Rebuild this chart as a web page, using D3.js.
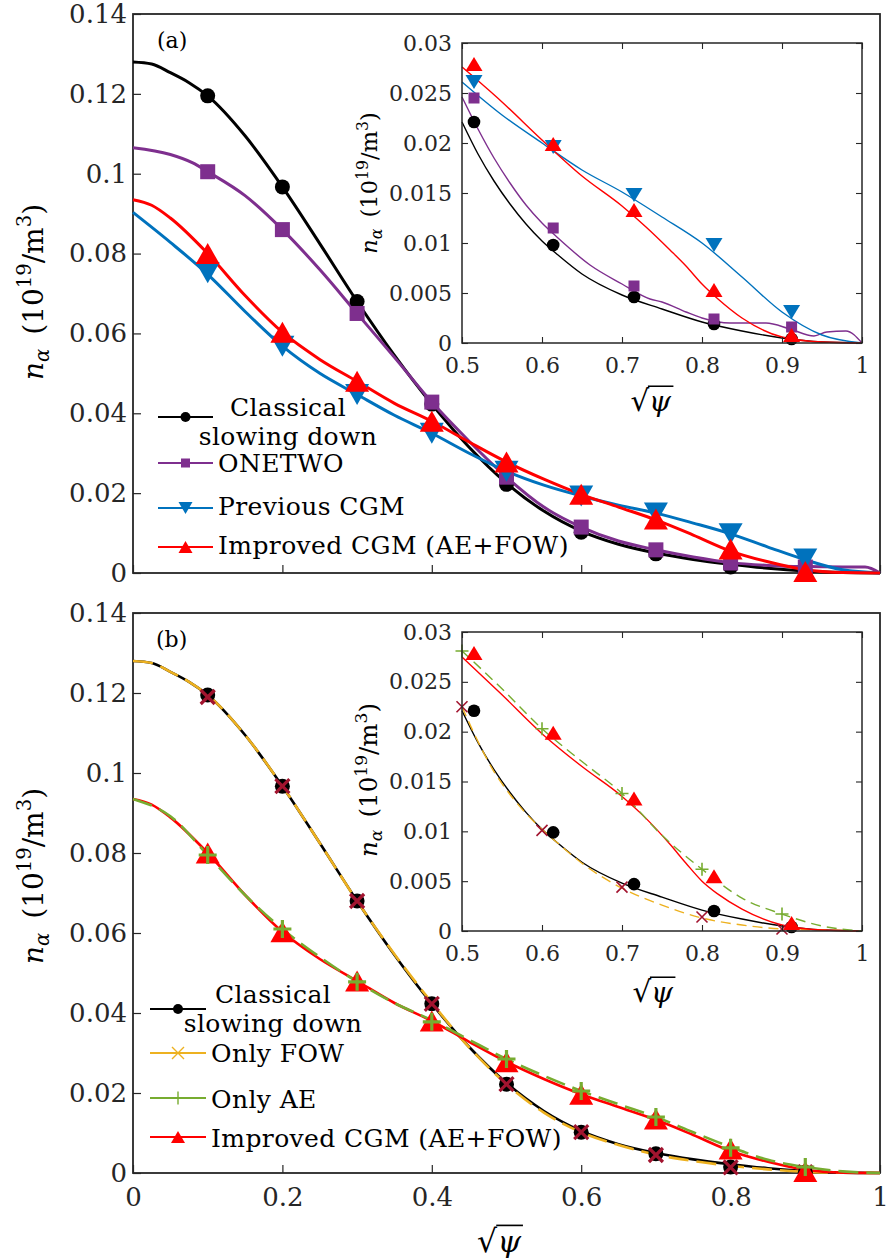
<!DOCTYPE html>
<html><head><meta charset="utf-8">
<script src="https://cdn.jsdelivr.net/npm/d3@7"></script>
<style>
body{margin:0;background:#fff}
text{font-family:"DejaVu Serif",serif;fill:#262626}
</style>
</head><body>
<svg id="c" width="892" height="1259"></svg>
<script>
// ---------------- DATA ----------------
const xTicksMain=[0,0.2,0.4,0.6,0.8,1];
const xTickLabelsMain=['0','0.2','0.4','0.6','0.8','1'];
const yTicksMain=[0,0.02,0.04,0.06,0.08,0.1,0.12,0.14];
const yTickLabelsMain=['0','0.02','0.04','0.06','0.08','0.1','0.12','0.14'];
const xTicksInset=[0.5,0.6,0.7,0.8,0.9,1];
const xTickLabelsInset=['0.5','0.6','0.7','0.8','0.9','1'];
const yTicksInset=[0,0.005,0.01,0.015,0.02,0.025,0.03];
const yTickLabelsInset=['0','0.005','0.01','0.015','0.02','0.025','0.03'];

// main panels: curves
const classicalX=[0,0.025,0.05,0.075,0.1,0.15,0.2,0.25,0.3,0.35,0.4,0.45,0.5,0.55,0.6,0.65,0.7,0.75,0.8,0.85,0.9,0.95,1];
const classicalY=[0.128,0.1275,0.1253,0.1228,0.1195,0.1095,0.0967,0.0825,0.068,0.0545,0.0423,0.0315,0.0225,0.0155,0.0105,0.0072,0.005,0.0034,0.0022,0.0012,0.0005,0.0001,0];
const onlyFowY=[0.128,0.1275,0.1253,0.1228,0.1195,0.1095,0.0967,0.0825,0.068,0.0547,0.0426,0.0314,0.0222,0.0151,0.0102,0.007,0.0046,0.003,0.0018,0.0009,0.0003,0.0001,0];
const onetwoX=[0,0.05,0.08,0.1,0.15,0.2,0.25,0.3,0.35,0.4,0.45,0.5,0.55,0.6,0.65,0.7,0.75,0.8,0.85,0.9,0.95,0.98,1];
const onetwoY=[0.1065,0.1048,0.1027,0.1005,0.0945,0.086,0.076,0.065,0.054,0.0428,0.033,0.024,0.0165,0.0115,0.008,0.0058,0.004,0.0026,0.0019,0.0016,0.0015,0.0015,0];
const gridX=[0,0.05,0.1,0.15,0.2,0.25,0.3,0.35,0.4,0.45,0.5,0.55,0.6,0.65,0.7,0.75,0.8,0.85,0.9,0.95,1];
const previousY=[0.0903,0.0828,0.0748,0.0655,0.0568,0.05,0.0447,0.0395,0.035,0.03,0.0255,0.022,0.0193,0.017,0.015,0.0125,0.0098,0.0065,0.0033,0.0008,0];
const onlyAeY=[0.0935,0.0892,0.0795,0.0695,0.061,0.054,0.0478,0.0425,0.0382,0.0333,0.0285,0.0243,0.0205,0.0172,0.014,0.0102,0.0065,0.0033,0.0015,0.0004,0];
const improvedX=[0,0.025,0.05,0.1,0.15,0.2,0.25,0.3,0.35,0.4,0.45,0.5,0.55,0.6,0.65,0.7,0.75,0.8,0.85,0.9,0.95,1];
const improvedY=[0.0935,0.0921,0.0889,0.08,0.0695,0.0603,0.0535,0.048,0.0425,0.038,0.0328,0.0278,0.0235,0.0197,0.0165,0.0133,0.0095,0.0055,0.0028,0.0008,0.0001,0];

// main panels: markers
const markX=[0.1,0.2,0.3,0.4,0.5,0.6,0.7,0.8,0.9];
const classicalM=[0.1195,0.0967,0.068,0.0423,0.0222,0.0102,0.0048,0.0015,0.0002];
const onetwoM=[0.1005,0.086,0.065,0.0428,0.024,0.0115,0.0058,0.0025,0.0015];
const previousM=[0.0752,0.0568,0.0447,0.035,0.0255,0.0193,0.015,0.0098,0.0035];
const improvedM=[0.08,0.0603,0.048,0.038,0.0278,0.0197,0.0135,0.006,0.0004];
const onlyFowM=[0.119,0.0967,0.068,0.0423,0.0222,0.0102,0.0045,0.0014,0.0002];
const onlyAeM=[0.0795,0.061,0.0478,0.0378,0.0285,0.0205,0.014,0.0063,0.0015];

// insets: curves
const insetBlackX=[0.5,0.52,0.54,0.56,0.58,0.6,0.62,0.65,0.7,0.75,0.8,0.85,0.9,0.95,1];
const insetBlackY=[0.0221,0.0189,0.0162,0.0139,0.0119,0.0102,0.0088,0.0069,0.0048,0.0034,0.0021,0.0012,0.0005,0.0001,0];
const insetPurpleX=[0.5,0.52,0.54,0.56,0.58,0.6,0.62,0.66,0.7,0.735,0.75,0.78,0.8,0.835,0.88,0.91,0.94,0.956,0.98,1];
const insetPurpleY=[0.0246,0.0214,0.0185,0.016,0.0138,0.012,0.0105,0.0078,0.0059,0.0044,0.0041,0.0031,0.0025,0.002,0.002,0.0014,0.0007,0.0011,0.0012,0];
const insetBlueX=[0.5,0.55,0.6,0.65,0.7,0.75,0.8,0.85,0.9,0.95,1];
const insetBlueY=[0.0261,0.0228,0.02,0.0173,0.0151,0.0126,0.01,0.0066,0.0031,0.0008,0];
const insetRedX=[0.5,0.55,0.6,0.65,0.7,0.73,0.76,0.78,0.8,0.82,0.85,0.9,0.95,1];
const insetRedAY=[0.0276,0.0241,0.0203,0.0167,0.0137,0.0116,0.0093,0.0077,0.0059,0.0044,0.0025,0.0006,0.0001,0];
const insetRedBY=[0.0275,0.0237,0.0198,0.0165,0.0135,0.0113,0.0087,0.0068,0.005,0.0037,0.0022,0.0006,0.0001,0];
const insetOrangeX=[0.5,0.52,0.54,0.56,0.58,0.6,0.62,0.65,0.7,0.75,0.8,0.85,0.9,0.95,1];
const insetOrangeY=[0.0225,0.019,0.016,0.0137,0.0118,0.0102,0.0088,0.0068,0.0043,0.0026,0.0013,0.0006,0.0002,0.0001,0];
const insetGreenX=[0.5,0.55,0.6,0.65,0.7,0.75,0.8,0.85,0.9,0.95,1];
const insetGreenY=[0.0281,0.0243,0.0203,0.017,0.0138,0.0096,0.0062,0.0033,0.0017,0.0005,0];

// insets: markers
const insetMarkX=[0.515,0.614,0.715,0.815,0.912];
const insetBlackM=[0.0221,0.0098,0.0046,0.0019,0.0004];
const insetPurpleM=[0.0245,0.0115,0.0057,0.0024,0.0016];
const insetBlueM=[0.0261,0.0196,0.0148,0.0098,0.0031];
const insetRedAM=[0.0279,0.0199,0.0133,0.0053,0.0008];
const insetRedBM=[0.0279,0.0199,0.0133,0.0055,0.0008];
const insetBlackBM=[0.0221,0.0099,0.0047,0.002,0.0004];
const insetGridMarkX=[0.5,0.6,0.7,0.8,0.9];
const insetFowM=[0.0225,0.0101,0.0044,0.0014,0.0002];
const insetAeM=[0.0281,0.0203,0.0138,0.0062,0.0017];

const legendA=['Classical|slowing down','ONETWO','Previous CGM','Improved CGM (AE+FOW)'];
const legendB=['Classical|slowing down','Only FOW','Only AE','Improved CGM (AE+FOW)'];

// ---------------- STYLE ----------------
const C={black:'#000000',purple:'#7E2F8E',blue:'#0072BD',red:'#FF0000',orange:'#EDB120',green:'#77AC30',maroon:'#A2142F',axis:'#262626'};
const svg=d3.select('#c');
const zip=(a,b)=>a.map((v,i)=>[v,b[i]]);

function drawMarker(g,type,px,py,s,color){
  if(type==='circle'){g.append('circle').attr('cx',px).attr('cy',py).attr('r',s.r).attr('fill',color);}
  else if(type==='square'){g.append('rect').attr('x',px-s.a/2).attr('y',py-s.a/2).attr('width',s.a).attr('height',s.a).attr('fill',color);}
  else if(type==='up'){g.append('path').attr('d',`M${px-s.w/2},${py+s.h/2}L${px+s.w/2},${py+s.h/2}L${px},${py-s.h/2}Z`).attr('fill',color);}
  else if(type==='down'){g.append('path').attr('d',`M${px-s.w/2},${py-s.h/2}L${px+s.w/2},${py-s.h/2}L${px},${py+s.h/2}Z`).attr('fill',color);}
  else if(type==='x'){const d=s.x;g.append('path').attr('d',`M${px-d},${py-d}L${px+d},${py+d}M${px-d},${py+d}L${px+d},${py-d}`).attr('stroke',color).attr('stroke-width',s.sw).attr('fill','none');}
  else if(type==='plus'){const d=s.p;g.append('path').attr('d',`M${px-d},${py}L${px+d},${py}M${px},${py-d}L${px},${py+d}`).attr('stroke',color).attr('stroke-width',s.sw).attr('fill','none');}
}
const mainSz={r:7.5,a:15,w:24,h:21,x:7,p:9,sw:3.2};
const insetSz={r:6.3,a:11,w:17,h:14,x:5.5,p:6.5,sw:1.6};
const legSz={r:5,a:9,w:14,h:12,x:6,p:6.5,sw:1.4};

function drawLine(g,x,y,xs,ys,color,w,dash){
  const line=d3.line().x(d=>x(d[0])).y(d=>y(d[1])).curve(d3.curveMonotoneX);
  const p=g.append('path').attr('d',line(zip(xs,ys))).attr('fill','none').attr('stroke',color).attr('stroke-width',w).attr('stroke-linejoin','round');
  if(dash)p.attr('stroke-dasharray',dash);
}
function drawMarks(g,x,y,xs,ys,type,sz,color){xs.forEach((v,i)=>drawMarker(g,type,x(v),y(ys[i]),sz,color));}

function whiteBox(g,x,y){
  const [x0,x1]=x.range(),[y0,y1]=y.range();
  g.append('rect').attr('x',x0).attr('y',y1).attr('width',x1-x0).attr('height',y0-y1).attr('fill','#fff');
}
function axes(g,x,y,o){
  const [x0,x1]=x.range(),[y0,y1]=y.range();
  const ax=g.append('g').attr('transform',`translate(0,${y0})`).call(d3.axisBottom(x).tickValues(o.xt).tickSizeInner(-o.tl).tickSizeOuter(0).tickPadding(o.xpad).tickFormat((d,i)=>o.xl?o.xl[i]:''));
  const ay=g.append('g').attr('transform',`translate(${x0},0)`).call(d3.axisLeft(y).tickValues(o.yt).tickSizeInner(-o.tl).tickSizeOuter(0).tickPadding(o.ypad).tickFormat((d,i)=>o.yl[i]));
  [ax,ay].forEach(a=>{a.attr('font-family',null);a.select('.domain').remove();a.selectAll('line').attr('stroke',C.axis).attr('stroke-width',o.tw);a.selectAll('text').attr('font-size',o.fs).attr('fill',C.axis);});
  if(o.mirror){
    const at=g.append('g').attr('transform',`translate(0,${y1})`).call(d3.axisTop(x).tickValues(o.xt).tickSizeInner(-o.tl).tickSizeOuter(0).tickFormat(''));
    const ar=g.append('g').attr('transform',`translate(${x1},0)`).call(d3.axisRight(y).tickValues(o.yt).tickSizeInner(-o.tl).tickSizeOuter(0).tickFormat(''));
    [at,ar].forEach(a=>{a.select('.domain').remove();a.selectAll('line').attr('stroke',C.axis).attr('stroke-width',o.tw);});
  }
  g.append('rect').attr('x',x0).attr('y',y1).attr('width',x1-x0).attr('height',y0-y1).attr('fill','none').attr('stroke',C.axis).attr('stroke-width',o.bw);
}

function yLabel(g,cx,cy,fs){
  const t=g.append('text').attr('transform',`translate(${cx},${cy}) rotate(-90)`).attr('text-anchor','middle').attr('font-size',fs).style('fill','#000');
  t.append('tspan').attr('font-style','italic').text('n');
  t.append('tspan').attr('font-style','italic').attr('font-size',fs*0.7).attr('dy',fs*0.22).text('α');
  t.append('tspan').attr('dy',-fs*0.22).text('\u2002(10');
  t.append('tspan').attr('font-size',fs*0.7).attr('dy',-fs*0.42).text('19');
  t.append('tspan').attr('dy',fs*0.42).text('/m');
  t.append('tspan').attr('font-size',fs*0.7).attr('dy',-fs*0.42).text('3');
  t.append('tspan').attr('dy',fs*0.42).text(')');
}
function sqrtPsi(g,cx,cy,fs){
  const grp=g.append('g');
  const t1=grp.append('text').attr('x',0).attr('y',0).attr('font-size',fs*1.05).style('fill','#000').text('√');
  const b1=t1.node().getBBox();
  const t2=grp.append('text').attr('x',b1.x+b1.width-fs*0.02).attr('y',0).attr('font-size',fs).attr('font-style','italic').style('fill','#000').text('ψ');
  const b2=t2.node().getBBox();
  const top=b1.y+fs*0.08;
  grp.append('line').attr('x1',b1.x+b1.width-fs*0.06).attr('x2',b2.x+b2.width+fs*0.05).attr('y1',top).attr('y2',top).attr('stroke','#000').attr('stroke-width',fs*0.055);
  const bb=grp.node().getBBox();
  grp.attr('transform',`translate(${cx-(bb.x+bb.width/2)},${cy-(bb.y+bb.height/2)})`);
}
function legend(g,x0,x1,ys,bases,textX,centerX,labels,styles,fs){
  styles.forEach((s,i)=>{
    g.append('line').attr('x1',x0).attr('x2',x1).attr('y1',ys[i]).attr('y2',ys[i]).attr('stroke',s.c).attr('stroke-width',2);
    drawMarker(g,s.m,(x0+x1)/2,ys[i],legSz,s.mc||s.c);
    const parts=labels[i].split('|');
    if(parts.length>1){
      parts.forEach((p,k)=>g.append('text').attr('x',centerX).attr('y',bases[i][k]).attr('text-anchor','middle').attr('font-size',fs).attr('letter-spacing',0.4).style('fill','#000').text(p));
    } else {
      g.append('text').attr('x',textX).attr('y',bases[i][0]).attr('font-size',fs).attr('letter-spacing',0.4).style('fill','#000').text(parts[0]);
    }
  });
}

// ---------------- SCALES ----------------
const xMain=d3.scaleLinear().domain([0,1]).range([133,880]);
const yA=d3.scaleLinear().domain([0,0.14]).range([573,14]);
const yB=d3.scaleLinear().domain([0,0.14]).range([1173,613]);
const xIn=d3.scaleLinear().domain([0.5,1]).range([462,862]);
const yInA=d3.scaleLinear().domain([0,0.03]).range([343,43]);
const yInB=d3.scaleLinear().domain([0,0.03]).range([931,632]);

const mainAx={xt:xTicksMain,yt:yTicksMain,yl:yTickLabelsMain,tl:8,tw:1.2,bw:1.8,fs:26,xpad:15,ypad:6};
const inAx={xt:xTicksInset,xl:xTickLabelsInset,yt:yTicksInset,yl:yTickLabelsInset,tl:6,tw:1.1,bw:1.5,fs:22,xpad:14,ypad:10,mirror:true};

// ---------------- PANEL (a) ----------------
const gA=svg.append('g');
axes(gA,xMain,yA,mainAx);
drawLine(gA,xMain,yA,classicalX,classicalY,C.black,3);
drawLine(gA,xMain,yA,onetwoX,onetwoY,C.purple,3);
drawLine(gA,xMain,yA,gridX,previousY,C.blue,3);
drawLine(gA,xMain,yA,improvedX,improvedY,C.red,3);
drawMarks(gA,xMain,yA,markX,classicalM,'circle',mainSz,C.black);
drawMarks(gA,xMain,yA,markX,onetwoM,'square',mainSz,C.purple);
drawMarks(gA,xMain,yA,markX,previousM,'down',mainSz,C.blue);
drawMarks(gA,xMain,yA,markX,improvedM,'up',mainSz,C.red);
gA.append('text').attr('x',157).attr('y',48).attr('font-size',22).style('fill','#000').text('(a)');
yLabel(gA,43,292,28);
legend(gA,158,213,[417,463,508,547],[[416,445],[472],[515],[554]],218,288,legendA,
  [{c:C.black,m:'circle'},{c:C.purple,m:'square'},{c:C.blue,m:'down'},{c:C.red,m:'up'}],25);

// (a) inset
const gAi=svg.append('g');
whiteBox(gAi,xIn,yInA);
drawLine(gAi,xIn,yInA,insetBlackX,insetBlackY,C.black,1.4);
drawLine(gAi,xIn,yInA,insetPurpleX,insetPurpleY,C.purple,1.4);
drawLine(gAi,xIn,yInA,insetBlueX,insetBlueY,C.blue,1.4);
drawLine(gAi,xIn,yInA,insetRedX,insetRedAY,C.red,1.4);
drawMarks(gAi,xIn,yInA,insetMarkX,insetBlackM,'circle',insetSz,C.black);
drawMarks(gAi,xIn,yInA,insetMarkX,insetPurpleM,'square',insetSz,C.purple);
drawMarks(gAi,xIn,yInA,insetMarkX,insetBlueM,'down',insetSz,C.blue);
drawMarks(gAi,xIn,yInA,insetMarkX,insetRedAM,'up',insetSz,C.red);
axes(gAi,xIn,yInA,inAx);
yLabel(gAi,377,183,22.5);
sqrtPsi(gAi,652,401,28);

// ---------------- PANEL (b) ----------------
const gB=svg.append('g');
axes(gB,xMain,yB,Object.assign({},mainAx,{xl:xTickLabelsMain}));
drawLine(gB,xMain,yB,classicalX,classicalY,C.black,2.6);
drawLine(gB,xMain,yB,classicalX,onlyFowY,C.orange,2.6,'20,8');
drawLine(gB,xMain,yB,improvedX,improvedY,C.red,2.6);
drawLine(gB,xMain,yB,gridX,onlyAeY,C.green,2.6,'20,8');
drawMarks(gB,xMain,yB,markX,classicalM,'circle',mainSz,C.black);
drawMarks(gB,xMain,yB,markX,onlyFowM,'x',mainSz,C.maroon);
drawMarks(gB,xMain,yB,markX,improvedM,'up',mainSz,C.red);
drawMarks(gB,xMain,yB,markX,onlyAeM,'plus',mainSz,C.green);
gB.append('text').attr('x',156).attr('y',647).attr('font-size',22).style('fill','#000').text('(b)');
yLabel(gB,43,876,28);
sqrtPsi(gB,500,1241,30);
legend(gB,150,206,[1009,1053,1098,1137],[[1003,1032],[1062],[1108],[1147]],211,273,legendB,
  [{c:C.black,m:'circle'},{c:C.orange,m:'x'},{c:C.green,m:'plus'},{c:C.red,m:'up'}],25);

// (b) inset
const gBi=svg.append('g');
whiteBox(gBi,xIn,yInB);
drawLine(gBi,xIn,yInB,insetBlackX,insetBlackY,C.black,1.4);
drawLine(gBi,xIn,yInB,insetOrangeX,insetOrangeY,C.orange,1.4,'10,6');
drawLine(gBi,xIn,yInB,insetRedX,insetRedBY,C.red,1.4);
drawLine(gBi,xIn,yInB,insetGreenX,insetGreenY,C.green,1.4,'10,6');
drawMarks(gBi,xIn,yInB,insetMarkX,insetBlackBM,'circle',insetSz,C.black);
drawMarks(gBi,xIn,yInB,insetGridMarkX,insetFowM,'x',insetSz,C.maroon);
drawMarks(gBi,xIn,yInB,insetMarkX,insetRedBM,'up',insetSz,C.red);
drawMarks(gBi,xIn,yInB,insetGridMarkX,insetAeM,'plus',insetSz,C.green);
axes(gBi,xIn,yInB,inAx);
yLabel(gBi,377,780,24.5);
sqrtPsi(gBi,654,992,28);
</script>
</body></html>
